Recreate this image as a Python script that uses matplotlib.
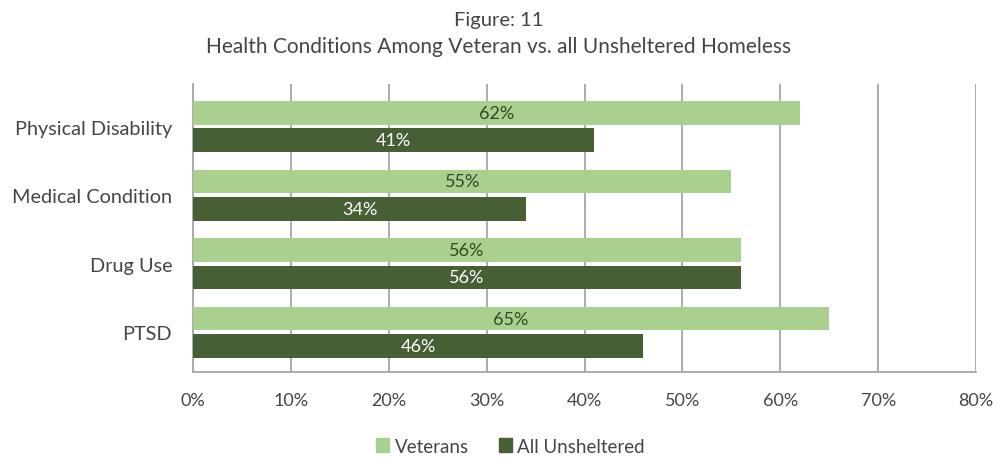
import numpy as np
import matplotlib.pyplot as plt

plt.rcParams['font.family'] = ['Lato', 'DejaVu Sans']

categories = ['Physical Disability', 'Medical Condition', 'Drug Use', 'PTSD']
veterans = [62, 55, 56, 65]
all_unsheltered = [41, 34, 56, 46]
xticks = [0, 10, 20, 30, 40, 50, 60, 70, 80]

light = '#a9d08e'
dark = '#475f35'
grid_col = '#a6a6a6'
text_col = '#454545'

fig = plt.figure(figsize=(9.97, 4.6), dpi=100)
ax = fig.add_axes([0.1936, 0.189, 0.7854, 0.626])

y = np.arange(len(categories))
h = 0.345
off = 0.2

for yi, v, a in zip(y, veterans, all_unsheltered):
    ax.barh(yi - off, v, height=h, color=light, zorder=3)
    ax.barh(yi + off, a, height=h, color=dark, zorder=3)
    ax.text(v / 2, yi - off, f'{v}%', ha='center', va='center',
            color='#2e4a22', fontsize=13, zorder=4)
    ax.text(a / 2, yi + off, f'{a}%', ha='center', va='center',
            color='white', fontsize=13, zorder=4)

ax.set_xlim(0, 80)
ax.set_ylim(3.58, -0.62)
ax.set_xticks(xticks)
ax.set_xticklabels([f'{t}%' for t in xticks])
ax.set_yticks(y)
ax.set_yticklabels(categories)
ax.tick_params(axis='both', length=0, labelsize=13, colors=text_col)
ax.tick_params(axis='y', labelsize=14.3, pad=15)
ax.tick_params(axis='x', pad=14)

ax.grid(axis='x', color=grid_col, linewidth=1.3, zorder=0)
for s in ['top', 'right']:
    ax.spines[s].set_visible(False)
for s in ['left', 'bottom']:
    ax.spines[s].set_color(grid_col)
    ax.spines[s].set_linewidth(1.3)

fig.text(0.5, 0.955, 'Figure: 11', ha='center', va='center',
         fontsize=14.5, color=text_col)
fig.text(0.5, 0.898, 'Health Conditions Among Veteran vs. all Unsheltered Homeless',
         ha='center', va='center', fontsize=15, color=text_col)

handles = [plt.Rectangle((0, 0), 1, 1, color=light),
           plt.Rectangle((0, 0), 1, 1, color=dark)]
fig.legend(handles, ['Veterans', 'All Unsheltered'], loc='center',
           bbox_to_anchor=(0.512, 0.028), ncol=2, frameon=False,
           fontsize=13.5, handlelength=0.7, handleheight=0.7,
           handletextpad=0.3, columnspacing=1.6, labelcolor=text_col)

fig.savefig('out.png', dpi=100)
